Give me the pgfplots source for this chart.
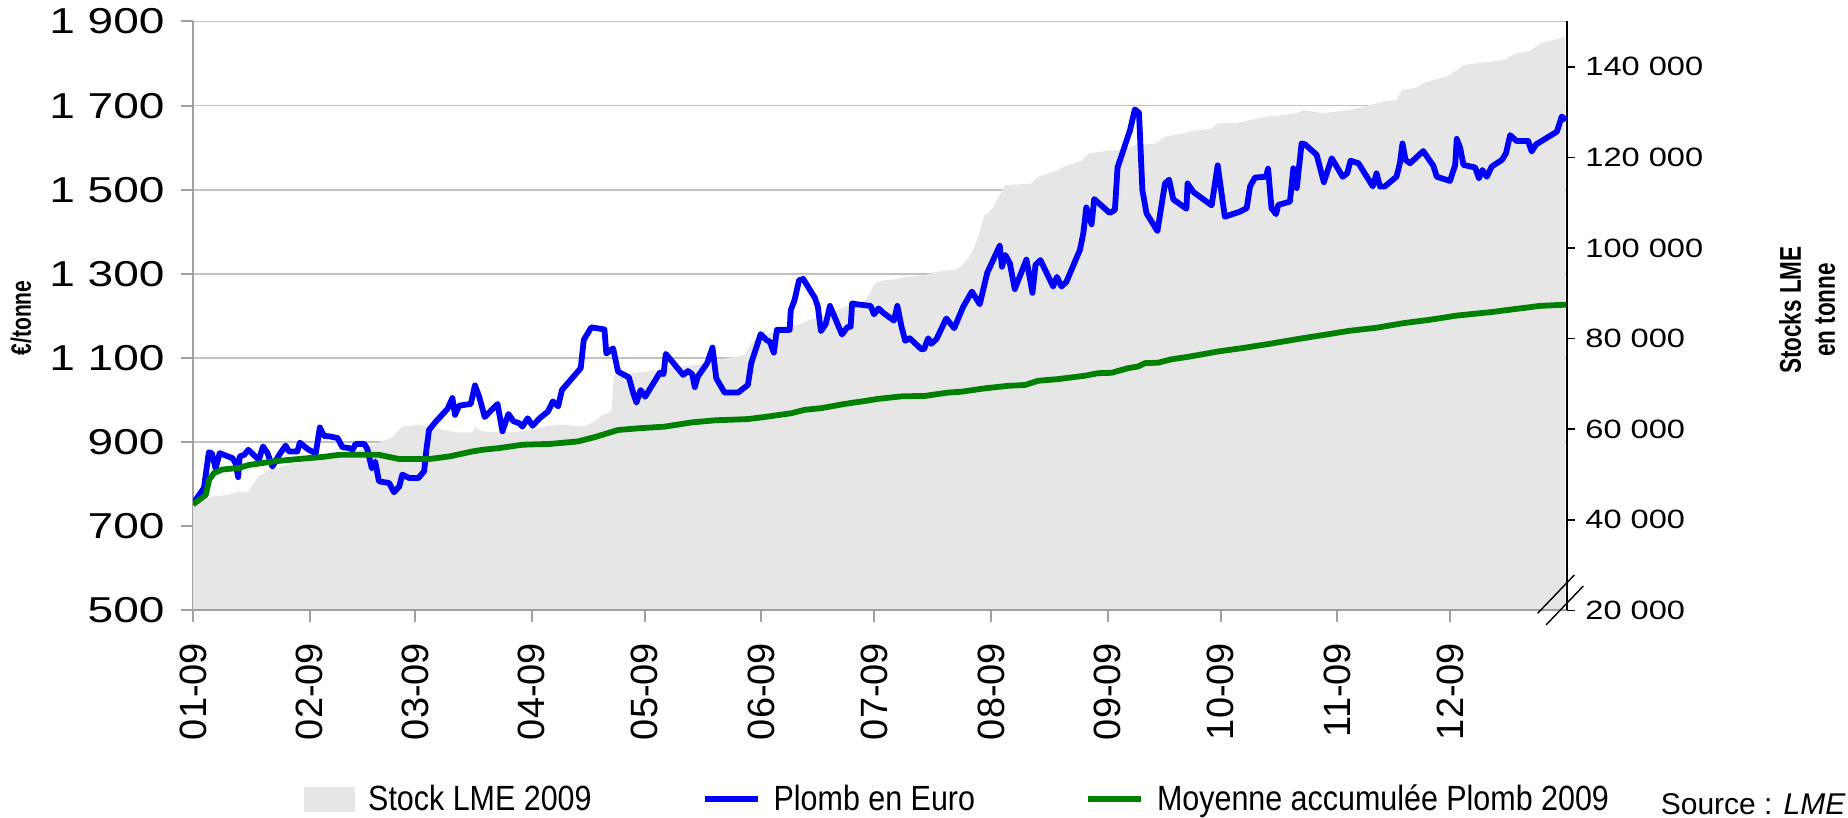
\documentclass[border=0pt]{standalone}
\usepackage{fontspec}
\setmainfont{Liberation Sans}
\newfontfamily\ytickfont[FakeStretch=1.28]{Liberation Sans}
\newfontfamily\rtickfont[FakeStretch=1.23]{Liberation Sans}
\newfontfamily\legfont[FakeStretch=0.87]{Liberation Sans}
\newfontfamily\labfont[FakeStretch=0.75]{Liberation Sans}
\usepackage{pgfplots}
\usepackage{pgfplotstable}
\pgfplotsset{compat=1.18}

\definecolor{stockgray}{HTML}{E6E6E6}
\definecolor{gridgray}{HTML}{C0C0C0}
\definecolor{axisgray}{HTML}{A0A0A0}
\definecolor{plombblue}{HTML}{0000FF}
\definecolor{moygreen}{HTML}{008000}

% jour de l'annee (0 = 1er janvier) / prix en euro par tonne
\pgfplotstableread{
day price
0 754
2.9 791
4.2 876
5.0 874
6.0 838
7.1 874
10.5 862
11.3 850
12.0 817
12.4 866
13.6 870
14.7 882
17.5 858
18.6 890
19.8 874
21.1 842
22.9 870
24.6 892
25.5 878
27.7 878
28.4 899
30.4 884
32.6 873
33.7 935
34.8 915
36.2 914
38.4 910
39.7 888
41.5 886
42.4 882
43.2 896
45.5 896
46.3 884
47.5 838
48.4 854
49.4 807
52.1 803
53.4 781
54.8 795
55.6 823
57.4 815
59.9 815
61.4 831
62.0 882
62.7 929
64.5 949
67.6 979
68.9 1005
69.6 965
70.7 987
73.8 991
74.9 1035
76.0 1009
77.5 960
80.9 991
82.2 926
83.8 967
85.1 950
86.7 945
87.5 937
88.9 957
90.2 939
92.1 957
94.3 973
95.6 997
97.0 985
98.0 1024
103.0 1076
103.8 1143
105.8 1173
109.3 1168
109.8 1111
111.6 1123
112.9 1068
115.8 1054
116.9 1018
117.8 994
118.9 1024
120.1 1008
124.0 1065
125.0 1062
125.6 1110
130.2 1060
131.5 1069
132.6 1062
133.3 1031
134.1 1056
136.6 1088
138.0 1125
139.0 1052
141.2 1018
144.8 1018
147.4 1036
148.3 1088
150.8 1157
152.3 1143
153.2 1139
154.3 1113
155.1 1167
158.5 1167
158.8 1214
159.8 1238
161.0 1285
162.1 1288
165.2 1243
166.0 1222
166.8 1164
168.1 1181
169.2 1224
172.4 1156
173.8 1173
174.7 1175
175.1 1230
176.2 1228
180.0 1224
180.9 1204
182.1 1218
183.3 1208
186.2 1189
187.1 1224
188.2 1175
189.2 1141
190.4 1147
193.5 1121
194.2 1121
195.3 1147
196.1 1134
197.5 1145
200.1 1194
202.2 1171
204.6 1222
206.9 1258
209.0 1228
211.0 1303
214.3 1367
214.9 1317
215.8 1345
217.0 1325
218.3 1264
221.4 1334
223.0 1255
223.8 1321
225.1 1333
228.5 1270
229.5 1293
230.7 1270
232.0 1281
235.6 1357
236.5 1396
237.3 1458
238.7 1418
239.4 1478
243.5 1445
244.9 1452
245.6 1553
248.9 1641
250.2 1691
251.3 1683
252.2 1499
253.3 1444
256.2 1402
258.2 1515
259.3 1524
260.4 1477
263.9 1455
264.2 1515
265.7 1495
270.6 1463
272.2 1558
274.1 1436
278.1 1448
279.9 1456
280.8 1508
282.1 1529
285.0 1531
285.6 1550
286.5 1456
287.7 1442
288.3 1464
291.4 1472
292.3 1551
293.2 1504
294.5 1610
295.4 1608
298.5 1583
300.4 1518
302.5 1575
305.4 1531
306.6 1539
307.5 1569
309.6 1563
313.4 1508
314.4 1539
315.3 1508
316.6 1508
319.7 1531
320.6 1563
321.3 1610
322.1 1571
323.3 1563
326.8 1592
329.5 1557
330.4 1531
333.9 1521
335.3 1559
335.7 1621
336.6 1600
337.5 1559
340.6 1553
341.6 1527
342.5 1547
343.7 1531
345.0 1555
347.7 1571
348.8 1587
349.9 1630
351.6 1616
354.7 1616
355.6 1591
356.8 1608
362.3 1638
363.6 1674
364.8 1666
}\plomb

% moyenne accumulee
\pgfplotstableread{
day price
0 752
3.4 775
4.3 811
5.6 827
7.8 835
12.2 839
14.9 846
21.1 854
25.5 858
34.4 865
38.8 870
49.4 870
54.8 860
62.7 860
68.0 866
74.2 878
76.9 882
81.3 886
87.5 894
91.0 895
95.0 896
102.3 902
106.7 912
112.9 929
118.2 933
125.3 937
132.4 947
138.6 952
147.4 955
151.9 960
159.0 969
162.5 977
166.9 981
173.1 991
178.5 998
182.0 1003
188.2 1009
194.4 1010
200.6 1018
204.1 1020
210.3 1028
216.5 1034
221.0 1036
224.5 1046
229.8 1050
236.9 1058
240.4 1064
244.0 1065
248.4 1076
251.1 1080
252.9 1088
256.4 1089
259.9 1097
264.4 1103
268.8 1110
272.5 1116
279.0 1124
286.1 1134
294.0 1146
301.1 1156
307.3 1165
314.4 1172
321.5 1183
328.6 1191
335.7 1201
344.6 1209
351.6 1217
357.8 1224
364.8 1227
}\moyenne

% stocks LME en tonnes
\pgfplotstableread{
day stock
0 44000
3.4 44840
6.0 45210
9.6 45580
11.3 45950
12.2 46320
14.7 46090
16.2 48150
17.5 49770
18.9 50210
20.2 51090
22.0 51450
25.5 52190
29.9 52920
34.4 53660
38.8 54390
43.2 55130
46.8 56230
50.3 57330
53.0 58280
55.6 60630
60.1 61000
62.7 60630
66.3 59900
69.8 59310
74.2 59310
74.9 60490
76.9 59530
82.2 59310
87.5 59530
91.9 60200
94.3 60780
97.8 61000
104.0 60630
106.7 61740
108.9 63200
111.1 63790
111.8 71800
116.4 72380
120.9 72750
125.3 73480
134.1 74220
139.5 75320
146.6 76420
148.3 78990
151.0 80610
157.2 82300
160.7 83030
166.0 84870
169.6 85600
174.9 87660
178.5 88170
179.8 90010
181.1 92210
182.9 92800
187.3 93160
189.1 93680
194.4 94040
197.9 94780
202.4 95290
204.1 95880
206.8 98820
208.6 102490
210.3 107480
211.2 107630
213.0 109470
215.6 113870
222.7 114240
224.5 115710
229.8 117180
231.6 118060
236.0 119230
237.8 120850
244.0 121580
245.8 121580
250.2 122680
255.5 123050
258.2 124520
263.5 125400
265.2 125840
270.6 126350
272.3 127600
277.2 127530
280.8 128260
285.2 129000
289.6 129370
293.2 129730
294.9 130470
300.3 129730
307.3 130470
310.9 131200
316.2 132300
319.7 132670
321.1 134870
325.1 135390
326.8 136340
333.9 138180
337.5 140380
342.8 140970
348.1 141480
351.6 142950
355.2 143540
357.8 145150
364.5 146620
}\stock

\pgfplotsset{
  base/.style={
    at={(96.5pt,103.75pt)}, anchor=south west,
    scale only axis, width=687pt, height=294.5pt,
    xmin=0, xmax=365,
    scaled y ticks=false, scaled x ticks=false,
  },
}

\begin{document}
\begin{tikzpicture}
\useasboundingbox (0,0) rectangle (924pt,409pt);

% grille et axe de gauche
\begin{axis}[base,
  ymin=500, ymax=1900,
  axis x line*=bottom, axis y line*=left,
  axis line style={axisgray, line width=1pt, -},
  tick style={axisgray, line width=1pt},
  tick align=outside, major tick length=6pt,
  ymajorgrids, grid style={gridgray, line width=0.75pt},
  xtick={0,31,59,90,120,151,181,212,243,273,304,334},
  xticklabels={01-09,02-09,03-09,04-09,05-09,06-09,07-09,08-09,09-09,10-09,11-09,12-09},
  xticklabel style={rotate=90, anchor=east, inner sep=0pt, font=\fontsize{19}{19}\selectfont},
  xticklabel shift=10pt,
  ytick={500,700,900,1100,1300,1500,1700,1900},
  yticklabels={500,700,900,1 100,1 300,1 500,1 700,1 900},
  yticklabel style={anchor=east, inner sep=0pt, font=\ytickfont\fontsize{18}{18}\selectfont},
  yticklabel shift=8pt,
  ylabel={€/tonne},
  ylabel style={at={(rel axis cs:-0.1252,0.4966)}, anchor=center, font=\labfont\bfseries\fontsize{14}{14}\selectfont},
]
\end{axis}

% stocks, axe de droite
\begin{axis}[base,
  ymin=20000, ymax=150000,
  axis x line*=bottom, axis y line*=right, axis on top,
  x axis line style={axisgray, line width=1pt, -},
  y axis line style={black, line width=0.8pt, -},
  xtick=\empty,
  tick align=outside, major tick length=4pt,
  ytick style={black, line width=0.8pt},
  ytick={20000,40000,60000,80000,100000,120000,140000},
  yticklabels={20 000,40 000,60 000,80 000,100 000,120 000,140 000},
  yticklabel style={anchor=west, inner sep=0pt, font=\rtickfont\fontsize{13.25}{13.25}\selectfont},
  yticklabel shift=5pt,
  ylabel={Stocks LME\\en tonne},
  ylabel style={at={(rel axis cs:1.1747,0.510)}, anchor=center, align=center, font=\labfont\bfseries\fontsize{15}{17}\selectfont},
]
\addplot[fill=stockgray, draw=none] table[x=day, y=stock] {\stock} \closedcycle;
\end{axis}

% prix et moyenne
\begin{axis}[base,
  ymin=500, ymax=1900,
  hide axis,
  legend columns=3,
  legend style={at={(rel axis cs:0.0808,-0.32)}, anchor=west, draw=none, fill=none,
    inner sep=0pt, nodes={inner sep=0pt},
    font=\legfont\fontsize{17.5}{17.5}\selectfont,
    /tikz/every odd column/.append style={column sep=6.5pt},
    /tikz/every even column/.append style={column sep=55pt}},
  legend image code/.code={\draw[#1, line width=3pt] (0pt,0pt) -- (26.5pt,0pt);},
]
\addlegendimage{legend image code/.code={\fill[stockgray] (0pt,-6pt) rectangle (25pt,6pt);}}
\addlegendentry{Stock LME 2009}
\addplot[plombblue, line width=2.9pt, line join=round] table[x=day, y=price] {\plomb};
\addlegendentry{Plomb en Euro}
\addplot[moygreen, line width=2.9pt, line join=round] table[x=day, y=price] {\moyenne};
\addlegendentry{Moyenne accumulée Plomb 2009}
\end{axis}

% rupture de l'axe de droite
\draw[black, line width=0.7pt] (768.85pt,102.35pt) -- (787.15pt,121.5pt);
\draw[black, line width=0.7pt] (773pt,96.5pt) -- (791.65pt,116pt);

\node[anchor=south east, inner sep=0pt, font=\fontsize{15}{15}\selectfont] at (923pt,1.5pt) {Source : \textit{LME}};
\end{tikzpicture}
\end{document}
